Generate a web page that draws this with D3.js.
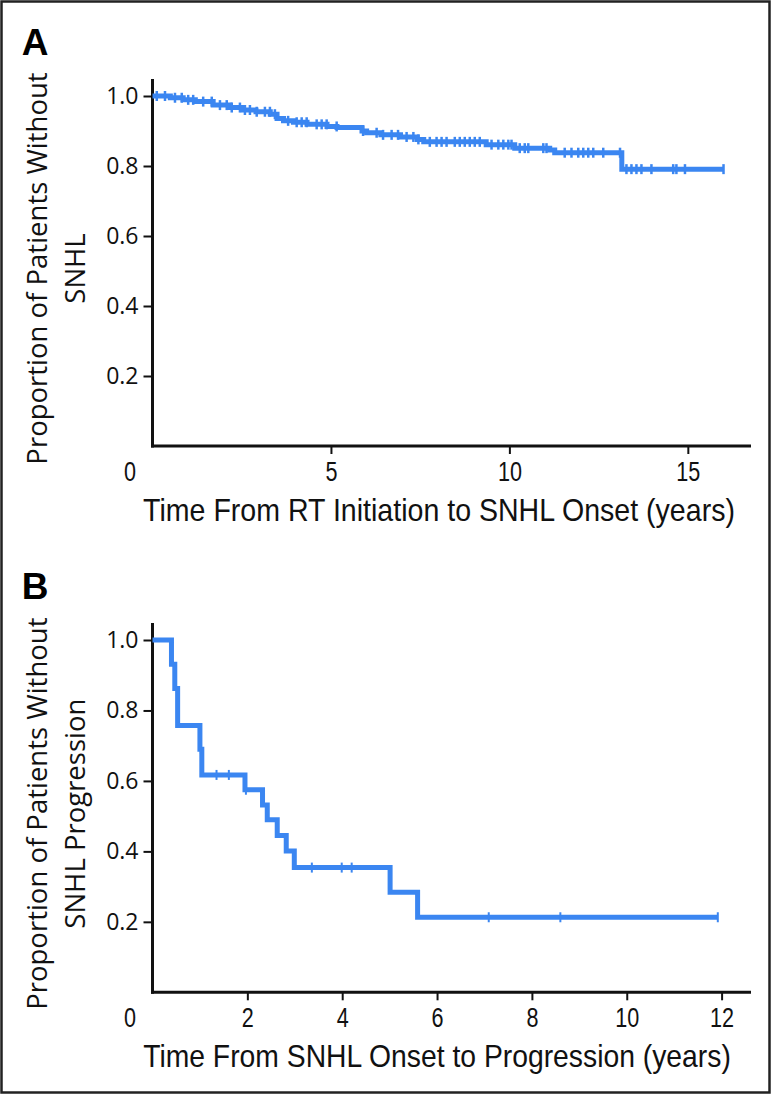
<!DOCTYPE html>
<meta charset="utf-8">
<style>
body { margin: 0; background: #fff; }
</style>
<body>
<script src="https://cdn.jsdelivr.net/npm/d3@7"></script>
<script>

var w = 773,
    h = 1095;

// Panel A: time from RT initiation to SNHL onset
var timesA = [0, 0.5, 0.86, 1.2, 1.7, 2.17, 2.54, 2.9, 3.3, 3.49, 3.67, 3.95, 4.33, 4.89, 5.17, 5.87, 6.0, 6.4, 6.95, 7.42, 7.6, 9.35, 10.15, 11.13, 11.27, 13.15];
var survA  = [1.0, 0.995, 0.989, 0.984, 0.974, 0.967, 0.96, 0.955, 0.948, 0.936, 0.929, 0.925, 0.919, 0.913, 0.91, 0.9, 0.895, 0.889, 0.883, 0.876, 0.869, 0.861, 0.851, 0.846, 0.838, 0.791];
var censorA = [0.12, 0.35, 0.63, 0.82, 1.0, 1.14, 1.42, 1.66, 1.89, 2.08, 2.22, 2.45, 2.59, 2.73, 2.92, 3.15, 3.29, 3.43,
  3.8, 4.04, 4.18, 4.32, 4.6, 4.74, 4.88, 5.16, 5.9, 6.28, 6.46, 6.7, 6.88, 7.12, 7.31, 7.45, 7.77, 7.96,
  8.1, 8.24, 8.47, 8.61, 8.75, 8.89, 9.03, 9.17, 9.5, 9.69, 9.83, 9.97, 10.06, 10.29, 10.43, 10.53, 10.95, 11.04,
  11.55, 11.74, 11.93, 12.07, 12.21, 12.35, 12.63, 13.1, 13.28, 13.42, 13.56, 13.7, 13.98, 14.59, 14.68, 14.92, 16.0];
var ticksXA = [5, 10, 15];

// Panel B: time from SNHL onset to progression
var timesB = [0, 0.4, 0.47, 0.53, 1.0, 1.04, 1.95, 2.32, 2.42, 2.63, 2.82, 2.99, 5.01, 5.59];
var survB  = [1.0, 0.931, 0.862, 0.757, 0.69, 0.617, 0.575, 0.532, 0.49, 0.445, 0.401, 0.354, 0.284, 0.213];
var censorB = [1.02, 1.35, 1.61, 1.97, 3.36, 3.99, 4.2, 7.09, 8.6, 11.92];
var ticksXB = [2, 4, 6, 8, 10, 12];

var ticksY = [0.2, 0.4, 0.6, 0.8, 1.0];

var blue = "#3b86f1",
    narrow = "'Liberation Sans', Arial, sans-serif",
    plain = "'Open Sans', 'DejaVu Sans', sans-serif";

var svg = d3.select("body").append("svg")
    .attr("width", w)
    .attr("height", h);

svg.append("rect")
    .attr("x", 1.5).attr("y", 1.5)
    .attr("width", 768).attr("height", 1091)
    .attr("fill", "none")
    .attr("stroke", "#222")
    .attr("stroke-width", 2.5);

function panel(opt) {
  var x = d3.scaleLinear().domain([0, opt.xmax]).range([152.5, 751]),
      y = d3.scaleLinear().domain([0, 1]).range([opt.y0, opt.y1]);

  var g = svg.append("g");

  // panel letter
  g.append("text")
      .attr("x", 35).attr("y", opt.y1 - 41)
      .attr("text-anchor", "middle")
      .style("font", "bold 37px 'Liberation Sans', Arial, sans-serif")
      .text(opt.letter);

  // y axis
  var yAxis = g.append("g")
      .attr("transform", "translate(152.5,0)")
      .call(d3.axisLeft(y).tickValues(ticksY).tickFormat(d3.format(".1f")).tickSize(9).tickSizeOuter(0));
  yAxis.select(".domain").remove();
  yAxis.selectAll(".tick line").attr("stroke", "#111").attr("stroke-width", 2);
  yAxis.selectAll(".tick text")
      .attr("x", -14)
      .style("font", "23px " + plain)
      .attr("fill", "#111");
  g.append("line")
      .attr("x1", 152.5).attr("x2", 152.5)
      .attr("y1", opt.y1 - 17).attr("y2", opt.y0 + 1.5)
      .attr("stroke", "#111").attr("stroke-width", 3);

  // x axis
  var xAxis = g.append("g")
      .attr("transform", "translate(0," + opt.y0 + ")")
      .call(d3.axisBottom(x).tickValues(opt.ticksX).tickSize(8).tickSizeOuter(0));
  xAxis.select(".domain").remove();
  xAxis.selectAll(".tick line").attr("stroke", "#111").attr("stroke-width", 2);
  xAxis.selectAll(".tick text")
      .attr("y", 35).attr("dy", null)
      .attr("transform", "scale(0.8,1)")
      .style("font-family", narrow)
      .style("font-size", "27px")
      .attr("fill", "#111");
  g.append("line")
      .attr("x1", 151).attr("x2", 751)
      .attr("y1", opt.y0).attr("y2", opt.y0)
      .attr("stroke", "#111").attr("stroke-width", 3);

  g.append("text")
      .attr("transform", "translate(130," + (opt.y0 + 35) + ") scale(0.8,1)")
      .attr("text-anchor", "middle")
      .style("font-family", narrow)
      .style("font-size", "27px")
      .attr("fill", "#111")
      .text("0");

  // axis title, squeezed to the condensed width of the original
  var title = g.append("text")
      .attr("text-anchor", "middle")
      .style("font-family", narrow)
      .style("font-size", "31px")
      .attr("fill", "#111")
      .text(opt.xTitle);
  var k = opt.titleLen / title.node().getComputedTextLength();
  title.attr("transform", "translate(" + opt.titleX + "," + (opt.y0 + 75) + ") scale(" + k + ",1)");

  var cy = (opt.y0 + opt.y1 - 17) / 2 + 6;
  opt.yTitle.forEach(function(t, i) {
    g.append("text")
        .attr("transform", "translate(" + (47 + i * 38) + "," + cy + ") rotate(-90)")
        .attr("text-anchor", "middle")
        .style("font", "27.5px " + plain)
        .attr("fill", "#111")
        .text(t);
  });

  // KM step curve
  var pts = opt.times.map(function(t, i) { return [t, opt.surv[i]]; });
  pts.push([opt.tEnd, opt.surv[opt.surv.length - 1]]);

  g.append("path")
      .datum(pts)
      .attr("fill", "none")
      .attr("stroke", blue)
      .attr("stroke-width", opt.lw)
      .attr("d", d3.line()
          .x(function(d) { return x(d[0]); })
          .y(function(d) { return y(d[1]); })
          .curve(d3.curveStepAfter));

  // censor marks
  function survAt(t) {
    var i = d3.bisectRight(opt.times, t) - 1;
    return opt.surv[Math.max(0, i)];
  }
  g.selectAll(".censor")
      .data(opt.censor)
    .enter().append("line")
      .attr("x1", function(d) { return x(d); })
      .attr("x2", function(d) { return x(d); })
      .attr("y1", function(d) { return y(survAt(d)) - opt.ch; })
      .attr("y2", function(d) { return y(survAt(d)) + opt.ch; })
      .attr("stroke", blue)
      .attr("stroke-width", opt.cw);
}

panel({
  letter: "A",
  xmax: 16.77, y0: 446, y1: 96,
  ticksX: ticksXA,
  times: timesA, surv: survA, censor: censorA, tEnd: 16.0,
  lw: 5, ch: 5, cw: 2.5,
  xTitle: "Time From RT Initiation to SNHL Onset (years)", titleLen: 592, titleX: 439,
  yTitle: ["Proportion of Patients Without", "SNHL"]
});

panel({
  letter: "B",
  xmax: 12.62, y0: 992.3, y1: 640,
  ticksX: ticksXB,
  times: timesB, surv: survB, censor: censorB, tEnd: 11.92,
  lw: 5, ch: 5, cw: 2,
  xTitle: "Time From SNHL Onset to Progression (years)", titleLen: 588, titleX: 437,
  yTitle: ["Proportion of Patients Without", "SNHL Progression"]
});

</script>
